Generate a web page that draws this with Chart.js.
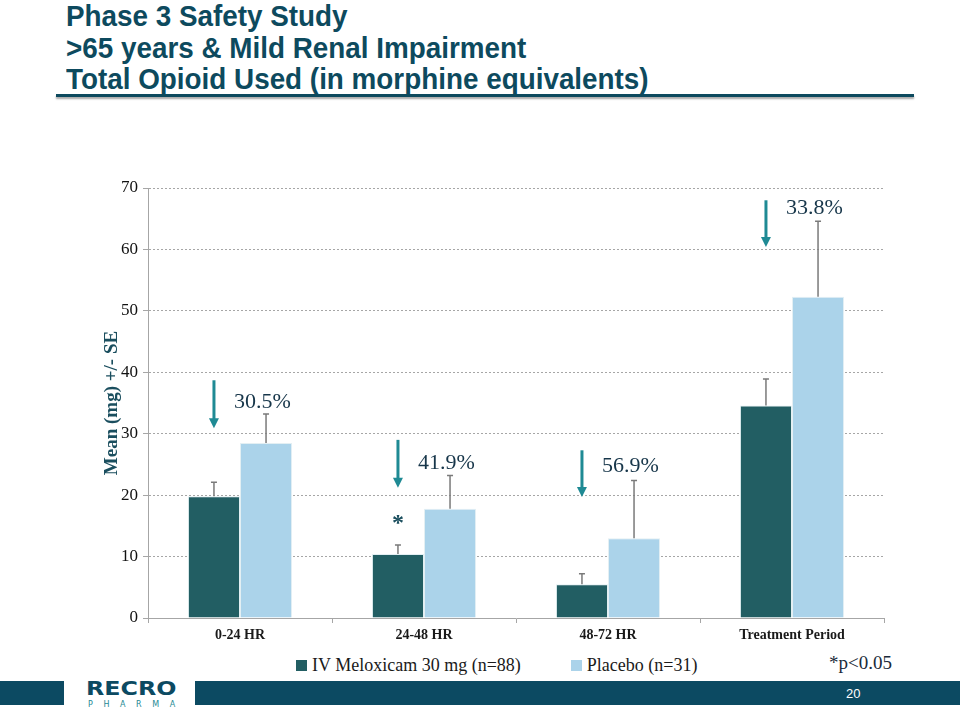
<!DOCTYPE html>
<html>
<head>
<meta charset="utf-8">
<script src="https://cdn.jsdelivr.net/npm/chart.js@4.4.1/dist/chart.umd.min.js"></script>
<style>
  body { margin: 0; width: 960px; height: 720px; background: #fff; position: relative; overflow: hidden; font-family: "Liberation Sans", Arial, sans-serif; }
  .title { position: absolute; left: 66px; top: 1px; color: #0d4a5e; font-weight: bold; font-size: 29px; line-height: 31.5px; transform: scaleX(0.96); transform-origin: left top; white-space: nowrap; }
  .rule { position: absolute; left: 56px; top: 94px; width: 858px; height: 3px; background: #0d4a5e; box-shadow: 0 2px 2px rgba(0,0,0,0.35); }
  #wrap { position: absolute; left: 90px; top: 170px; width: 800px; height: 478px; }
  .legend { position: absolute; top: 655px; left: 296px; font-family: "Liberation Serif", "Times New Roman", serif; font-size: 18px; color: #1a1a1a; display: flex; }
  .legend span.item { display: flex; align-items: center; margin-right: 50px; }
  .legend i { display: inline-block; width: 11px; height: 11px; margin-right: 5px; }
  .pnote { position: absolute; left: 829px; top: 652px; font-family: "Liberation Serif", serif; font-size: 19px; color: #1a2a3a; }
  .footbar { position: absolute; left: 195px; top: 681px; width: 765px; height: 24px; background: #0c4a62; }
  .footleft { position: absolute; left: 0; top: 681px; width: 64px; height: 24px; background: #0c4a62; }
  .pagenum { position: absolute; left: 846px; top: 686px; color: #fff; font-size: 13px; }
  .logo { position: absolute; left: 86px; top: 677px; color: #0c4a62; font-weight: bold; font-size: 19px; font-family: "DejaVu Sans", sans-serif; transform: scaleX(1.25); transform-origin: left top; }
  .sub { position: absolute; left: 88px; top: 700px; font-size: 8px; letter-spacing: 10.6px; color: #1f8a94; font-family: "DejaVu Sans", sans-serif; }
</style>
</head>
<body>
<div class="title">Phase 3 Safety Study<br>&gt;65 years &amp; Mild Renal Impairment<br>Total Opioid Used (in morphine equivalents)</div>
<div class="rule"></div>
<div id="wrap"><canvas id="chart"></canvas></div>
<div class="legend" id="legend"></div>
<div class="pnote">*p&lt;0.05</div>
<div class="footleft"></div>
<div class="footbar"></div>
<div class="pagenum">20</div>
<div class="logo">RECRO</div>
<div class="sub">PHARMA</div>

<script>
// data
const categories = ["0-24 HR", "24-48 HR", "48-72 HR", "Treatment Period"];
const seriesNames = ["IV Meloxicam 30 mg (n=88)", "Placebo (n=31)"];
const meloxicam = [19.8, 10.4, 5.5, 34.6];
const placebo = [28.5, 17.8, 13.0, 52.3];
const meloxicamSE = [2.3, 1.5, 1.7, 4.3];
const placeboSE = [4.7, 5.4, 9.4, 12.3];
const yTicks = [0, 10, 20, 30, 40, 50, 60, 70];

// annotations: percent reduction, arrows above meloxicam bars
const reductions = ["30.5%", "41.9%", "56.9%", "33.8%"];
const arrowTop = [38.7, 29.0, 27.3, 68.0];
const arrowTip = [30.9, 21.2, 19.7, 60.4];
const labelAt = [35.2, 25.2, 24.7, 66.7];
const starAt = [null, 16.1, null, null];

const colors = ["#225e63", "#abd3ea"];

const serif = '"Liberation Serif", "Times New Roman", serif';

const annotate = {
  id: 'annotate',
  afterDatasetsDraw(chart) {
    const ctx = chart.ctx;
    const y = chart.scales.y;
    const ses = [meloxicamSE, placeboSE];
    // error bars
    chart.data.datasets.forEach((ds, d) => {
      chart.getDatasetMeta(d).data.forEach((bar, i) => {
        const top = y.getPixelForValue(ds.data[i] + ses[d][i]);
        ctx.save();
        ctx.strokeStyle = '#7a7a7a';
        ctx.lineWidth = 1.5;
        ctx.beginPath();
        ctx.moveTo(bar.x, bar.y);
        ctx.lineTo(bar.x, top);
        ctx.moveTo(bar.x - 3, top);
        ctx.lineTo(bar.x + 3, top);
        ctx.stroke();
        ctx.restore();
      });
    });
    // arrows + labels
    chart.getDatasetMeta(0).data.forEach((bar, i) => {
      const x = bar.x;
      const t = y.getPixelForValue(arrowTop[i]);
      const b = y.getPixelForValue(arrowTip[i]);
      ctx.save();
      ctx.strokeStyle = '#1f8a94';
      ctx.fillStyle = '#1f8a94';
      ctx.lineWidth = 3;
      ctx.beginPath();
      ctx.moveTo(x, t);
      ctx.lineTo(x, b - 8);
      ctx.stroke();
      ctx.beginPath();
      ctx.moveTo(x - 5, b - 10);
      ctx.lineTo(x + 5, b - 10);
      ctx.lineTo(x, b);
      ctx.closePath();
      ctx.fill();
      ctx.fillStyle = '#17364a';
      ctx.font = '22px ' + serif;
      ctx.textBaseline = 'middle';
      ctx.textAlign = 'left';
      ctx.fillText(reductions[i], x + 20, y.getPixelForValue(labelAt[i]));
      if (starAt[i] !== null) {
        ctx.fillStyle = '#1a4e5e';
        ctx.font = 'bold 24px ' + serif;
        ctx.textAlign = 'center';
        ctx.fillText('*', x, y.getPixelForValue(starAt[i]) + 5);
      }
      ctx.restore();
    });
  }
};

const config = {
  type: 'bar',
  data: {
    labels: categories,
    datasets: [
      { label: seriesNames[0], data: meloxicam, backgroundColor: colors[0], borderColor: 'rgba(220,235,240,0.8)', borderWidth: 1 },
      { label: seriesNames[1], data: placebo, backgroundColor: colors[1], borderColor: 'rgba(220,235,240,0.8)', borderWidth: 1 }
    ]
  },
  options: {
    responsive: true,
    maintainAspectRatio: false,
    animation: false,
    layout: { padding: { top: 18, right: 6, left: 0, bottom: 0 } },
    datasets: { bar: { categoryPercentage: 0.566, barPercentage: 1.0 } },
    plugins: { legend: { display: false }, tooltip: { enabled: false } },
    scales: {
      x: {
        grid: { drawOnChartArea: false, drawTicks: true, tickLength: 5, color: '#a6a6a6', offset: true },
        border: { color: '#a6a6a6', width: 1 },
        ticks: { color: '#1a1a1a', font: { family: serif, size: 14, weight: 'bold' }, padding: 4 },
        afterFit(s) { s.height = 30; }
      },
      y: {
        min: 0, max: 70,
        afterBuildTicks(s) { s.ticks = yTicks.map(v => ({ value: v })); },
        grid: { color: '#a6a6a6', lineWidth: 1, tickLength: 5, drawTicks: true },
        border: { color: '#a6a6a6', width: 1, dash: [2, 2] },
        ticks: { color: '#111111', font: { family: serif, size: 17 }, padding: 5 },
        title: { display: true, text: 'Mean (mg) +/- SE', color: '#1a4e5e', font: { family: serif, size: 19, weight: 'bold' }, padding: { top: 11, bottom: 0 } },
        afterFit(s) { s.width = 58; }
      }
    }
  },
  plugins: [annotate]
};

const chart = new Chart(document.getElementById('chart'), config);

// legend from the datasets
const legend = document.getElementById('legend');
seriesNames.forEach((name, i) => {
  const item = document.createElement('span');
  item.className = 'item';
  item.innerHTML = '<i style="background:' + colors[i] + '"></i>' + name;
  legend.appendChild(item);
});
</script>
</body>
</html>
